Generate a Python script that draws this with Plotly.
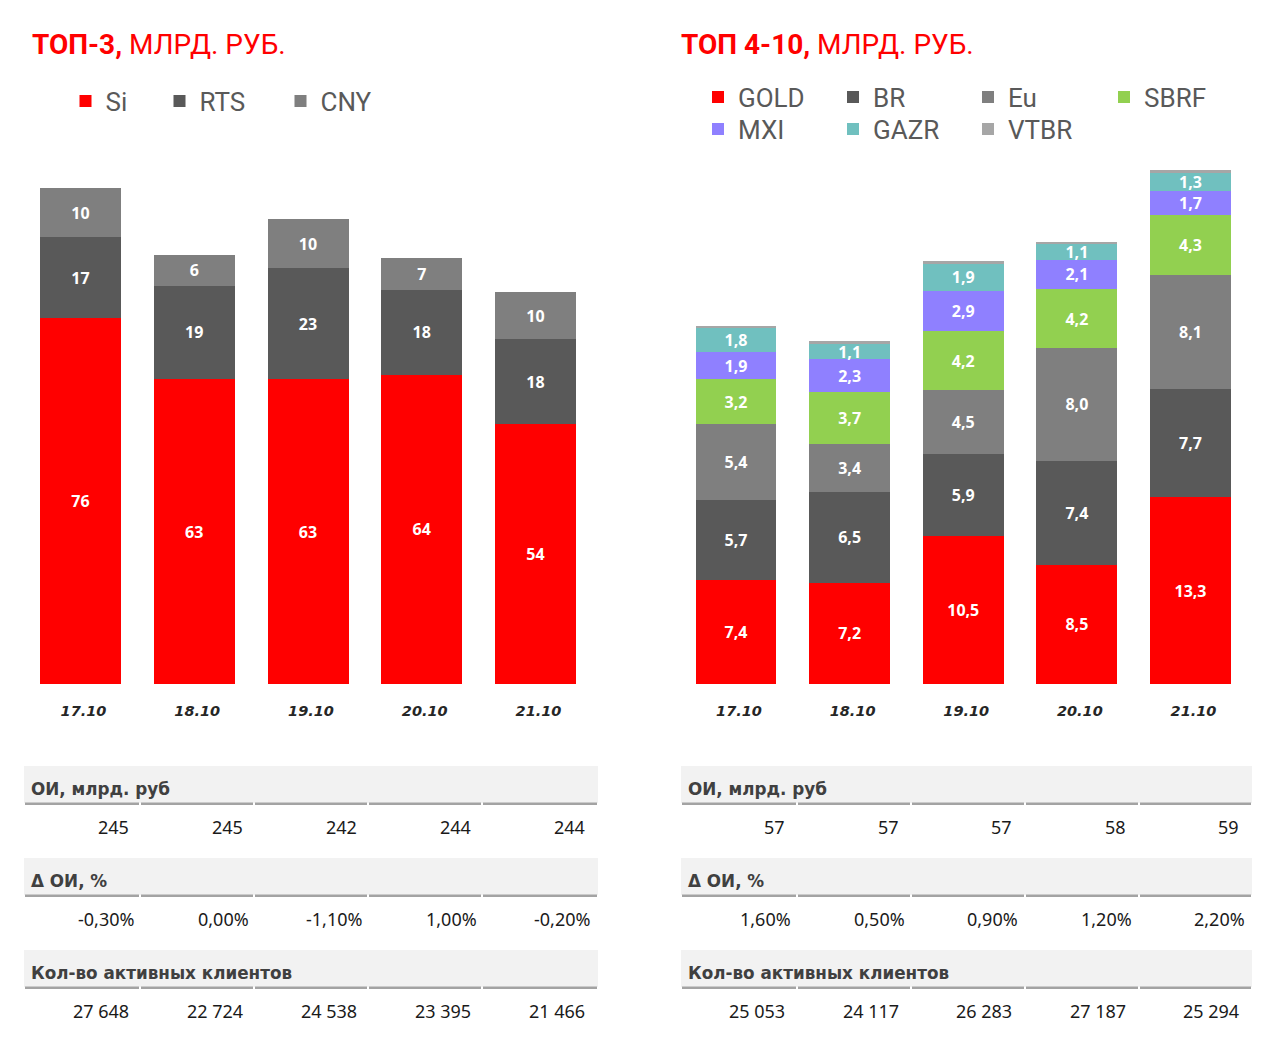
import plotly.graph_objects as go

W, H = 1280, 1038
OFF = 8  # page body margin offset
def X(px): return (px - OFF) / W
def Y(py): return 1 - (py - OFF) / H

dates = ["17.10", "18.10", "19.10", "20.10", "21.10"]

# ТОП-3, млрд. руб.
si  = [76.0, 63.3, 63.3, 64.2, 54.0]
rts = [16.8, 19.4, 23.0, 17.6, 17.6]
cny = [10.2, 6.4, 10.2, 6.6, 9.8]

# ТОП 4-10, млрд. руб.
gold = [7.4, 7.2, 10.5, 8.5, 13.3]
br   = [5.7, 6.5, 5.9, 7.4, 7.7]
eu   = [5.4, 3.4, 4.5, 8.0, 8.1]
sbrf = [3.2, 3.7, 4.2, 4.2, 4.3]
mxi  = [1.9, 2.3, 2.9, 2.1, 1.7]
gazr = [1.8, 1.1, 1.9, 1.1, 1.3]
vtbr = [0.1, 0.2, 0.2, 0.15, 0.15]

# tables
oi_top3 = [245, 245, 242, 244, 244]
doi_top3 = [-0.30, 0.00, -1.10, 1.00, -0.20]
clients_top3 = [27648, 22724, 24538, 23395, 21466]
oi_top10 = [57, 57, 57, 58, 59]
doi_top10 = [1.60, 0.50, 0.90, 1.20, 2.20]
clients_top10 = [25053, 24117, 26283, 27187, 25294]

row_headers = ["ОИ, млрд. руб", "Δ ОИ, %", "Кол-во активных клиентов"]

RED = "#ff0000"
DARK = "#595959"
MID = "#7f7f7f"
GREEN = "#92d050"
PURPLE = "#8f80ff"
TEAL = "#70c0bf"
LIGHT = "#a6a6a6"

fig = go.Figure()

label_font = dict(family="Noto Sans", size=16, color="white", weight="bold")
legend_font = dict(family="Roboto", size=26, color=DARK)

left_series = [("Si", si, RED), ("RTS", rts, DARK), ("CNY", cny, MID)]
right_series = [("GOLD", gold, RED), ("BR", br, DARK), ("Eu", eu, MID), ("SBRF", sbrf, GREEN),
                ("MXI", mxi, PURPLE), ("GAZR", gazr, TEAL), ("VTBR", vtbr, LIGHT)]

# legend symbol centres (px)
left_leg = [(85.5, 101), (179.5, 101), (300.5, 101)]
right_leg = [(718, 97), (853, 97), (988, 97), (1124, 97), (718, 129), (853, 129), (988, 129)]

layout_legends = {}
def legend_name(i):
    return "legend" if i == 0 else f"legend{i+1}"

leg_idx = 0
for series, pos, xa, ya, tmpl in [(left_series, left_leg, "x", "y", "%{y:.0f}"),
                                  (right_series, right_leg, "x2", "y2", "%{y:.1f}")]:
    for (name, vals, col), (lx, ly) in zip(series, pos):
        ln = legend_name(leg_idx)
        fig.add_trace(go.Bar(
            x=dates, y=vals, name=name, marker=dict(color=col, line=dict(width=0)),
            texttemplate="" if name == "VTBR" else tmpl,
            textposition="inside", insidetextanchor="middle",
            textangle=0, textfont=label_font, xaxis=xa, yaxis=ya, legend=ln,
            hoverinfo="skip"))
        layout_legends[ln] = dict(x=X(lx - 20), y=Y(ly), xanchor="left", yanchor="middle",
                                  orientation="h", bgcolor="rgba(0,0,0,0)", font=legend_font)
        leg_idx += 1

tickfont = dict(family="DejaVu Sans", size=14.5, color="#262626", weight="bold", style="italic")
xcommon = dict(type="category", range=[-0.5, 4.5], showline=False, showgrid=False,
               zeroline=False, ticks="", tickfont=tickfont, ticklabelstandoff=16,
               ticklabelshift=3, fixedrange=True)
ycommon = dict(visible=False, showgrid=False, zeroline=False, fixedrange=True)

fig.update_layout(
    width=W, height=H,
    margin=dict(l=0, r=0, t=0, b=0, autoexpand=False),
    paper_bgcolor="white", plot_bgcolor="white",
    barmode="stack", bargap=0.288,
    separators=", ",
    uniformtext=dict(minsize=16, mode="show"),
    showlegend=True,
    xaxis=dict(domain=[X(23.6), X(592.4)], anchor="y", **xcommon),
    yaxis=dict(domain=[Y(684), Y(165)], range=[0, (684 - 165) / 4.816], **ycommon),
    xaxis2=dict(domain=[X(679.2), X(1247.3)], anchor="y2", **xcommon),
    yaxis2=dict(domain=[Y(684), Y(165)], range=[0, (684 - 165) / 14.05], **ycommon),
    **layout_legends,
)

annotations = []
shapes = []

# titles
for tx, txt in [(30, "<b>ТОП-3,</b> МЛРД. РУБ."), (679, "<b>ТОП 4-10,</b> МЛРД. РУБ.")]:
    annotations.append(dict(xref="paper", yref="paper", x=X(tx), y=Y(45), xanchor="left",
                            yanchor="middle", showarrow=False, text=txt,
                            font=dict(family="Roboto", size=28, color=RED)))

def fmt_int(v):
    return f"{v:,}".replace(",", " ")

def fmt_pct(v):
    return f"{v:.2f}%".replace(".", ",")

tables = [
    dict(xref="x", cols=[24, 140, 254, 368, 482, 598], hx=29,
         rows=[[str(v) for v in oi_top3], [fmt_pct(v) for v in doi_top3], [fmt_int(v) for v in clients_top3]]),
    dict(xref="x2", cols=[681, 797, 911, 1025, 1139, 1252], hx=686,
         rows=[[str(v) for v in oi_top10], [fmt_pct(v) for v in doi_top10], [fmt_int(v) for v in clients_top10]]),
]
header_y = [789, 881, 973]
value_y = [827, 919, 1011]
value_shift = [51, 57, 51]

for t in tables:
    cols = t["cols"]
    for r in range(3):
        hy = header_y[r]
        shapes.append(dict(type="rect", xref="paper", yref="paper", x0=X(cols[0]), x1=X(cols[-1]),
                           y0=Y(hy + 14), y1=Y(hy - 23), fillcolor="#f2f2f2", line=dict(width=0),
                           layer="below"))
        for c in range(5):
            shapes.append(dict(type="rect", xref="paper", yref="paper",
                               x0=X(cols[c] + 1), x1=X(cols[c + 1] - 1),
                               y0=Y(hy + 16), y1=Y(hy + 13.5), fillcolor="#a3a3a3",
                               line=dict(width=0), layer="below"))
        annotations.append(dict(xref="paper", yref="paper", x=X(t["hx"]), y=Y(hy), xanchor="left",
                                yanchor="middle", showarrow=False, text=row_headers[r],
                                font=dict(family="DejaVu Sans", size=16.8, color="#404040",
                                          weight="bold")))
        for c in range(5):
            annotations.append(dict(xref=t["xref"], yref="paper", x=c, y=Y(value_y[r]),
                                    xanchor="right", yanchor="middle", xshift=value_shift[r],
                                    showarrow=False, text=t["rows"][r][c],
                                    font=dict(family="Noto Sans", size=18, color="#1a1a1a")))

fig.update_layout(annotations=annotations, shapes=shapes)

fig.write_html("out.html")
